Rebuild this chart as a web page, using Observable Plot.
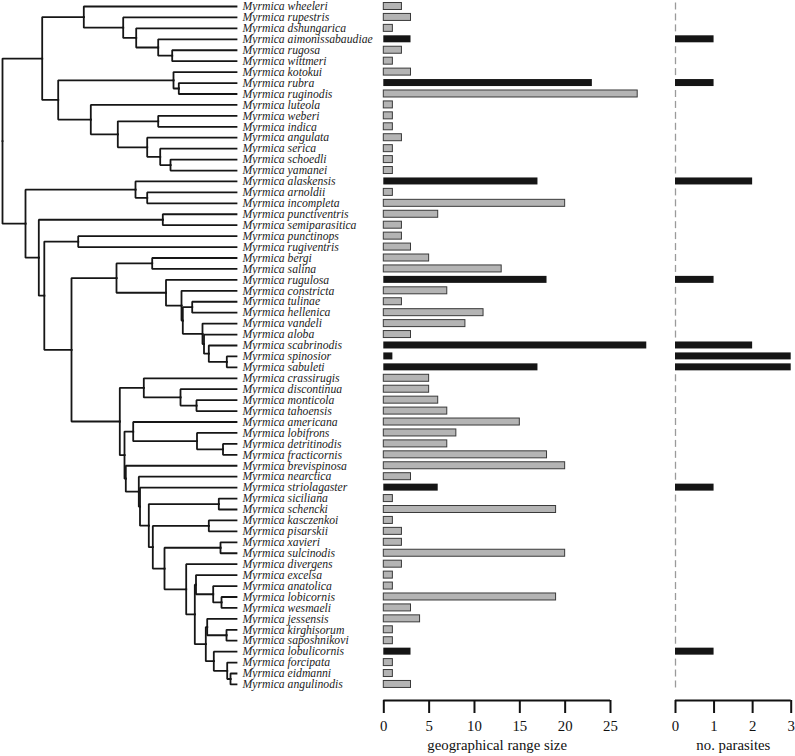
<!DOCTYPE html>
<html><head><meta charset="utf-8">
<script src="https://cdn.jsdelivr.net/npm/d3@7"></script>
<script src="https://cdn.jsdelivr.net/npm/@observablehq/plot@0.6"></script>
<style>
body{margin:0;background:#fff;}
#chart{position:relative;width:795px;height:756px;}
#chart svg{position:absolute;left:0;top:0;}
</style></head><body><div id="chart"></div>
<script>
// ---------- data ----------
const genus = "Myrmica";
const species = ["wheeleri","rupestris","dshungarica","aimonissabaudiae","rugosa","wittmeri","kotokui","rubra","ruginodis","luteola",
 "weberi","indica","angulata","serica","schoedli","yamanei","alaskensis","arnoldii","incompleta","punctiventris",
 "semiparasitica","punctinops","rugiventris","bergi","salina","rugulosa","constricta","tulinae","hellenica","vandeli",
 "aloba","scabrinodis","spinosior","sabuleti","crassirugis","discontinua","monticola","tahoensis","americana","lobifrons",
 "detritinodis","fracticornis","brevispinosa","nearctica","striolagaster","siciliana","schencki","kasczenkoi","pisarskii","xavieri",
 "sulcinodis","divergens","excelsa","anatolica","lobicornis","wesmaeli","jessensis","kirghisorum","saposhnikovi","lobulicornis",
 "forcipata","eidmanni","angulinodis"];
const rangeSize = [2,3,1,3,2,1,3,23,28,1, 1,1,2,1,1,1,17,1,20,6, 2,2,3,5,13,18,7,2,11,9,
 3,29,1,17,5,5,6,7,15,8, 7,18,20,3,6,1,19,1,2,2, 20,2,1,1,19,3,4,1,1,3, 1,1,3];
const parasites = [0,0,0,1,0,0,0,1,0,0, 0,0,0,0,0,0,2,0,0,0, 0,0,0,0,0,1,0,0,0,0,
 0,2,3,3,0,0,0,0,0,0, 0,0,0,0,1,0,0,0,0,0, 0,0,0,0,0,0,0,0,0,1, 0,0,0];
// tree: [node, child 1, child 2, node depth from root]; tips sit at tipDepth
const tipDepth = 234;
const clades = [
 ["root","cA","cE",0],
 ["cA","cA1","cB",39.7],
 ["cA1","wheeleri","cA2",81.3],
 ["cA2","rupestris","cA3",120.7],
 ["cA3","dshungarica","cA4",133.7],
 ["cA4","aimonissabaudiae","cA5",155.7],
 ["cA5","rugosa","wittmeri",169.7],
 ["cB","cC","cD",55.7],
 ["cC","kotokui","cC2",171],
 ["cC2","rubra","ruginodis",176.3],
 ["cD","luteola","cD2",88.3],
 ["cD2","cD3","cD4",115.3],
 ["cD3","weberi","indica",155.7],
 ["cD4","angulata","cD5",144.7],
 ["cD5","serica","cD6",157.7],
 ["cD6","schoedli","yamanei",168],
 ["cE","cF","cG",23],
 ["cF","alaskensis","cF2",133],
 ["cF2","arnoldii","incompleta",144.7],
 ["cG","cH","cJ",36.3],
 ["cH","punctiventris","semiparasitica",160.3],
 ["cJ","cI","cK",41.8],
 ["cI","punctinops","rugiventris",75.7],
 ["cK","cL","cM",69],
 ["cL","cN","cO",114],
 ["cN","bergi","salina",149.7],
 ["cO","rugulosa","cP",163.5],
 ["cP","constricta","cP2",179],
 ["cP2","cQ","cR",180.3],
 ["cQ","tulinae","hellenica",189.7],
 ["cR","vandeli","cR2",200],
 ["cR2","aloba","cS",201.5],
 ["cS","scabrinodis","cT",206.3],
 ["cT","spinosior","sabuleti",224.3],
 ["cM","cU","cM2",117.3],
 ["cU","crassirugis","cU2",141.3],
 ["cU2","discontinua","cU3",178],
 ["cU3","monticola","tahoensis",194],
 ["cM2","cW","cM3",122],
 ["cW","americana","cV",130.7],
 ["cV","lobifrons","cV2",194.5],
 ["cV2","detritinodis","fracticornis",220.5],
 ["cM3","brevispinosa","cM4",123.3],
 ["cM4","nearctica","cM5",136.3],
 ["cM5","striolagaster","cM6",137.5],
 ["cM6","cX","cY",146.3],
 ["cX","siciliana","schencki",216.3],
 ["cY","cY1","cY2",150.3],
 ["cY1","kasczenkoi","pisarskii",206.3],
 ["cY2","cY3","cZ",162],
 ["cY3","xavieri","sulcinodis",218],
 ["cZ","divergens","cZ1",183.7],
 ["cZ1","cZ2","cZ5",192.3],
 ["cZ2","excelsa","cZ3",193.5],
 ["cZ3","anatolica","cZ4",210.7],
 ["cZ4","lobicornis","wesmaeli",219],
 ["cZ5","cZ6","cZ8",203.3],
 ["cZ6","jessensis","cZ7",204.7],
 ["cZ7","kirghisorum","saposhnikovi",224],
 ["cZ8","lobulicornis","cZ9",211.3],
 ["cZ9","forcipata","cZ10",224.7],
 ["cZ10","eidmanni","angulinodis",228]
];
const rangeTicks = [0,5,10,15,20,25];
const parasiteTicks = [0,1,2,3];
const rangeLabel = "geographical range size";
const parasiteLabel = "no. parasites";

// ---------- derived tables ----------
const rows = species.map((s,i)=>({name:s, row:i, range:rangeSize[i], parasites:parasites[i]}));
const depth = {}, kids = {};
clades.forEach(([n,a,b,d]) => { kids[n]=[a,b]; depth[n]=d; });
species.forEach(s => depth[s]=tipDepth);
const rowOf = new Map(species.map((s,i)=>[s,i]));
const yOf = {};
function place(n){ if (rowOf.has(n)) return (yOf[n]=rowOf.get(n)); const [a,b]=kids[n]; return (yOf[n]=(place(a)+place(b))/2); }
place("root");
const segs = [];
clades.forEach(([n,a,b,d]) => { for (const c of [a,b]) { const id=n+">"+c;
  segs.push({id,x:d,y:yOf[n]},{id,x:d,y:yOf[c]},{id,x:depth[c],y:yOf[c]}); } });

// ---------- layout ----------
const W = 795, H = 756;
const yScale = {domain:[-0.549, 63.467], reverse:true, axis:null};
const common = {width:W, height:H, marginTop:0, marginBottom:56, style:{background:"none", overflow:"visible"}};
const serif = "'Liberation Serif','Times New Roman',serif";
const half = 0.5, barInset = 1.97;
const fmt = d => String(d);

const tree = Plot.plot({...common, marginLeft:2, marginRight:W-236,
  x:{domain:[0,tipDepth], axis:null}, y:yScale,
  marks:[
    Plot.line(segs, {x:"x", y:"y", z:"id", stroke:"#161616", strokeWidth:1.8, strokeLinejoin:"miter", strokeLinecap:"square"}),
    Plot.text(rows, {x:()=>tipDepth, y:"row", text:d=>genus+" "+d.name, textAnchor:"start", dx:6,
      fontFamily:serif, fontStyle:"italic", fontSize:11.7, fill:"#222"})
  ]});

const barsRange = Plot.plot({...common, marginLeft:383.3, marginRight:W-610,
  x:{domain:[0,25], axis:null}, y:yScale,
  marks:[
    Plot.rectX(rows.filter(d=>d.parasites===0), {x1:0, x2:"range", y1:d=>d.row-half, y2:d=>d.row+half,
      insetTop:barInset, insetBottom:barInset, fill:"#b4b4b4", stroke:"#3a3a3a", strokeWidth:1}),
    Plot.rectX(rows.filter(d=>d.parasites>0), {x1:0, x2:"range", y1:d=>d.row-half, y2:d=>d.row+half,
      insetTop:barInset, insetBottom:barInset, fill:"#151515"}),
    Plot.ruleY([yScale.domain[1]], {x1:0, x2:25, stroke:"#111", strokeWidth:2}),
    Plot.axisX({ticks:rangeTicks, tickFormat:fmt, anchor:"bottom", tickSize:13, tickPadding:7, strokeWidth:2, color:"#111",
      fontSize:14.8, fontFamily:serif, label:null}),
    Plot.text([rangeLabel], {frameAnchor:"bottom", lineAnchor:"middle", dy:45, fontFamily:serif, fontSize:14.8, fill:"#111"})
  ]});

const barsPar = Plot.plot({...common, marginLeft:675, marginRight:W-790.7,
  x:{domain:[0,3], axis:null}, y:yScale,
  marks:[
    Plot.ruleX(rows.filter(d=>d.parasites===0), {x:0, y1:d=>d.row-half+0.18, y2:d=>d.row+half-0.18, stroke:"#9a9a9a", strokeWidth:1.3}),
    Plot.rectX(rows.filter(d=>d.parasites>0), {x1:0, x2:"parasites", y1:d=>d.row-half, y2:d=>d.row+half,
      insetTop:barInset, insetBottom:barInset, fill:"#151515"}),
    Plot.ruleY([yScale.domain[1]], {x1:0, x2:3, stroke:"#111", strokeWidth:2}),
    Plot.axisX({ticks:parasiteTicks, tickFormat:fmt, anchor:"bottom", tickSize:13, tickPadding:7, strokeWidth:2, color:"#111",
      fontSize:14.8, fontFamily:serif, label:null}),
    Plot.text([parasiteLabel], {frameAnchor:"bottom", lineAnchor:"middle", dy:45, fontFamily:serif, fontSize:14.8, fill:"#111"})
  ]});

const chart = document.getElementById("chart");
chart.append(tree, barsRange, barsPar);
</script></body></html>
